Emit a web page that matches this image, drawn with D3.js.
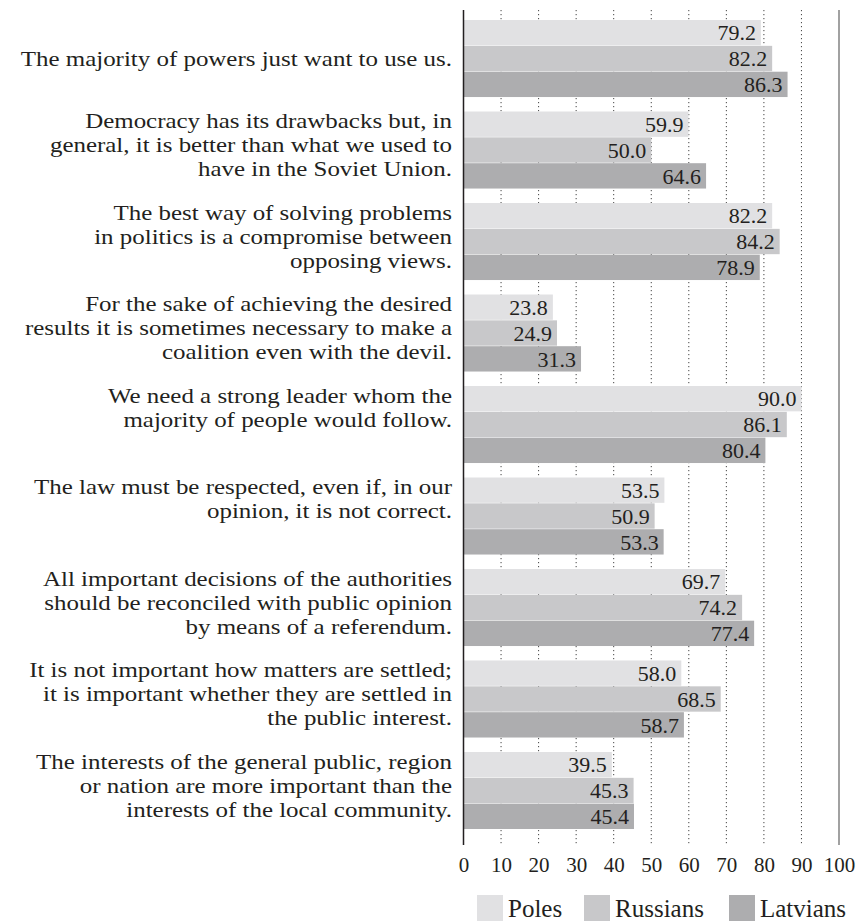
<!DOCTYPE html>
<html>
<head>
<meta charset="utf-8">
<script src="https://cdn.jsdelivr.net/npm/d3@7"></script>
<style>
  html, body { margin: 0; padding: 0; background: #ffffff; }
  svg { display: block; }
  text { font-family: "Liberation Serif", "DejaVu Serif", serif; fill: #231f20; }
</style>
</head>
<body>
<svg id="chart" width="867" height="921"></svg>
<script>
// Statements (each entry is the wrapped lines of the label)
const statements = [
  ["The majority of powers just want to use us."],
  ["Democracy has its drawbacks but, in", "general, it is better than what we used to", "have in the Soviet Union."],
  ["The best way of solving problems", "in politics is a compromise between", "opposing views."],
  ["For the sake of achieving the desired", "results it is sometimes necessary to make a", "coalition even with the devil."],
  ["We need a strong leader whom the", "majority of people would follow."],
  ["The law must be respected, even if, in our", "opinion, it is not correct."],
  ["All important decisions of the authorities", "should be reconciled with public opinion", "by means of a referendum."],
  ["It is not important how matters are settled;", "it is important whether they are settled in", "the public interest."],
  ["The interests of the general public, region", "or nation are more important than the", "interests of the local community."]
];

const seriesNames = ["Poles", "Russians", "Latvians"];
const poles    = [79.2, 59.9, 82.2, 23.8, 90.0, 53.5, 69.7, 58.0, 39.5];
const russians = [82.2, 50.0, 84.2, 24.9, 86.1, 50.9, 74.2, 68.5, 45.3];
const latvians = [86.3, 64.6, 78.9, 31.3, 80.4, 53.3, 77.4, 58.7, 45.4];
const xTicks = [0, 10, 20, 30, 40, 50, 60, 70, 80, 90, 100];

const seriesValues = [poles, russians, latvians];
const colors = ["#e1e1e3", "#c8c8ca", "#adadaf"];

const svg = d3.select("#chart");

const x = d3.scaleLinear().domain([0, 100]).range([463.5, 839]);
const plotTop = 10, plotBottom = 845;

const y = d3.scaleBand()
  .domain(d3.range(statements.length))
  .range([plotTop, plotBottom])
  .paddingInner(0.158)
  .paddingOuter(0.142)
  .align(0.385);

const ySub = d3.scaleBand()
  .domain(d3.range(seriesNames.length))
  .range([0, y.bandwidth()])
  .paddingInner(0.02);

const color = d3.scaleOrdinal().domain(d3.range(3)).range(colors);

// Dotted gridlines
svg.append("g")
  .selectAll("line")
  .data(xTicks.filter(t => t > 0 && t < 100))
  .join("line")
  .attr("x1", d => x(d)).attr("x2", d => x(d))
  .attr("y1", plotTop).attr("y2", plotBottom)
  .attr("stroke", "#444")
  .attr("stroke-width", 1)
  .attr("stroke-dasharray", "1.2,2.8");

// Right frame line at 100
svg.append("line")
  .attr("x1", x(100)).attr("x2", x(100))
  .attr("y1", plotTop).attr("y2", plotBottom)
  .attr("stroke", "#8a8a8a").attr("stroke-width", 1.6);

// Bars
const groups = svg.append("g")
  .selectAll("g")
  .data(statements.map((s, i) => i))
  .join("g")
  .attr("transform", i => `translate(0,${y(i)})`);

const cells = groups.selectAll("g.cell")
  .data(i => seriesValues.map((vals, s) => ({ s, v: vals[i] })))
  .join("g").attr("class", "cell");

cells.append("rect")
  .attr("x", x(0))
  .attr("y", d => ySub(d.s))
  .attr("width", d => x(d.v) - x(0))
  .attr("height", ySub.bandwidth())
  .attr("fill", d => color(d.s));

cells.append("text")
  .attr("x", d => x(d.v) - 5)
  .attr("y", d => ySub(d.s) + ySub.bandwidth() / 2)
  .attr("dy", "0.35em")
  .attr("text-anchor", "end")
  .attr("font-size", 22)
  .text(d => d.v.toFixed(1));

// Statement labels: slightly widened serif, tight leading
const labelX = 452;
const labelSize = 21.5;
const labelStretch = 1.16;
groups.each(function (i) {
  const lines = statements[i];
  const g = d3.select(this);
  const lh = 24;
  const start = lines.length === 1 ? y.bandwidth() / 2 : 9;
  lines.forEach((line, k) => {
    g.append("text")
      .attr("transform", `translate(${labelX},${start + k * lh}) scale(${labelStretch},1)`)
      .attr("dy", "0.35em")
      .attr("text-anchor", "end")
      .attr("font-size", labelSize)
      .text(line);
  });
});

// Zero axis line
svg.append("line")
  .attr("x1", x(0)).attr("x2", x(0))
  .attr("y1", plotTop).attr("y2", plotBottom)
  .attr("stroke", "#231f20").attr("stroke-width", 1.5);

// Value axis
const axis = d3.axisBottom(x).tickValues(xTicks).tickSize(0).tickPadding(0);
const ax = svg.append("g")
  .attr("transform", `translate(0,${plotBottom})`)
  .call(axis);
ax.select(".domain").remove();
ax.selectAll("text")
  .attr("font-size", 21)
  .attr("font-family", "Liberation Serif, serif")
  .attr("fill", "#231f20")
  .attr("y", 27)
  .attr("dy", null);

// Legend
const legend = svg.append("g")
  .selectAll("g")
  .data(seriesNames.map((name, s) => ({ name, s })))
  .join("g")
  .attr("transform", d => `translate(${[477, 584, 729][d.s]},895)`);

legend.append("rect")
  .attr("width", 26).attr("height", 26)
  .attr("fill", d => color(d.s));

legend.append("text")
  .attr("x", 31)
  .attr("y", 22)
  .attr("font-size", 25)
  .text(d => d.name);
</script>
</body>
</html>
